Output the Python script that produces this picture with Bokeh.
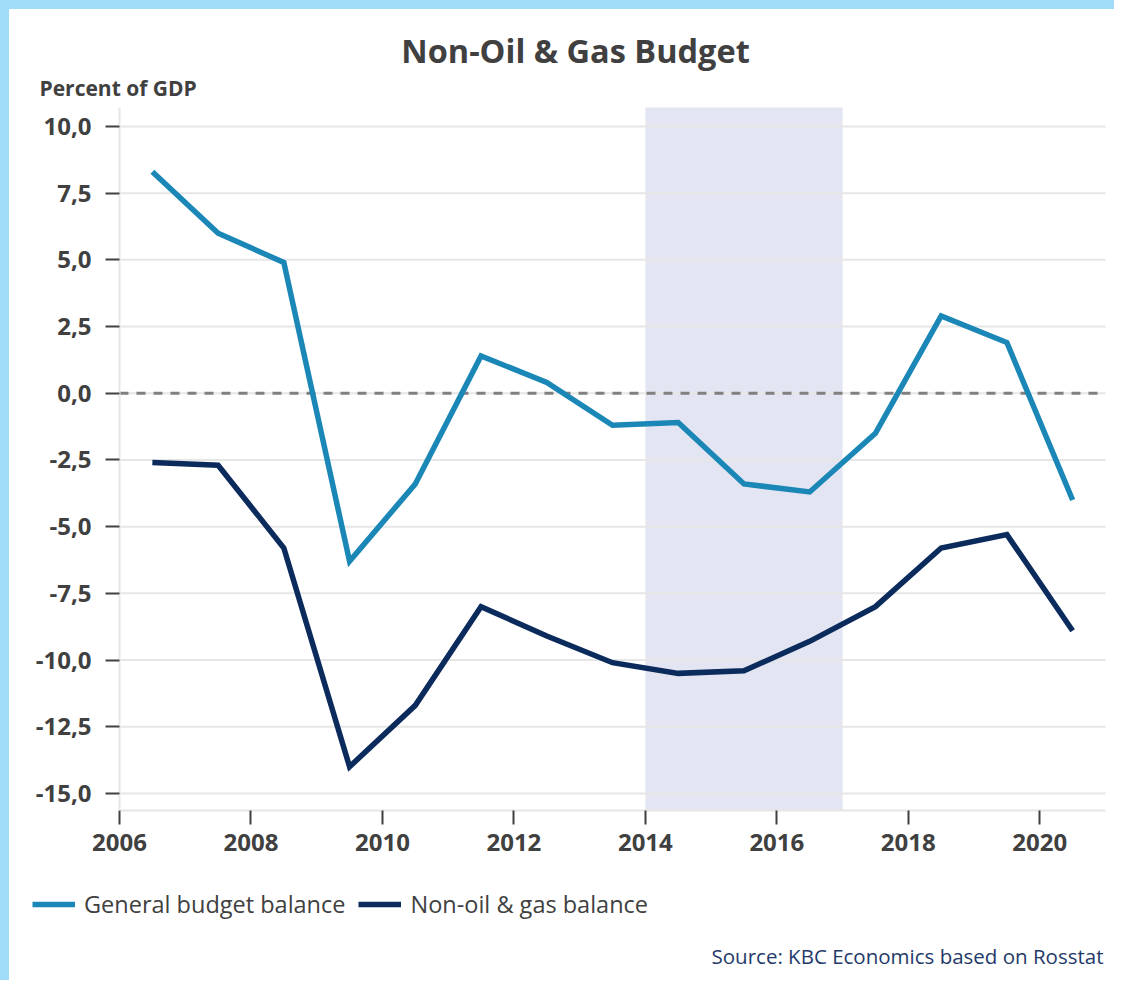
from bokeh.plotting import figure
from bokeh.models import (ColumnDataSource, Range1d, FixedTicker, CustomJSTickFormatter,
                          BoxAnnotation, Label, Legend, LegendItem, Spacer)
from bokeh.layouts import column, row
from bokeh.transform import dodge
from bokeh.embed import file_html
from bokeh.resources import INLINE

# ---- data ----
years = list(range(2006, 2021))
general_balance = [8.3, 6.0, 4.9, -6.3, -3.4, 1.4, 0.4, -1.2, -1.1, -3.4, -3.7, -1.5, 2.9, 1.9, -4.0]
non_oil_gas_balance = [-2.6, -2.7, -5.8, -14.0, -11.7, -8.0, -9.1, -10.1, -10.5, -10.4, -9.3, -8.0, -5.8, -5.3, -8.9]
series_names = ["General budget balance", "Non-oil & gas balance"]
shade_start, shade_end = 2014, 2017
x_ticks = [2006, 2008, 2010, 2012, 2014, 2016, 2018, 2020]
y_ticks = [-15.0, -12.5, -10.0, -7.5, -5.0, -2.5, 0.0, 2.5, 5.0, 7.5, 10.0]

title_text = "Non-Oil & Gas Budget"
unit_text = "Percent of GDP"
source_text = "Source: KBC Economics based on Rosstat"

# ---- plot-area domain ----
X_MIN, X_MAX = 2006, 2021
Y_MIN, Y_MAX = -15.64, 10.71

# ---- layout (page pixels) ----
FIG_X0, FIG_Y0, FIG_W, FIG_H = 9, 9, 1105, 971
FRAME_L, FRAME_R, FRAME_T, FRAME_B = 119, 1105, 107, 810
ppx = (FRAME_R - FRAME_L) / (X_MAX - X_MIN)
ppy = (FRAME_B - FRAME_T) / (Y_MAX - Y_MIN)
XR0 = X_MIN - (FRAME_L - FIG_X0) / ppx
XR1 = X_MAX + (FIG_X0 + FIG_W - FRAME_R) / ppx
YR1 = Y_MAX + (FRAME_T - FIG_Y0) / ppy
YR0 = Y_MIN - (FIG_Y0 + FIG_H - FRAME_B) / ppy


def px2x(px):
    return XR0 + (px - FIG_X0) / ppx


def px2y(py):
    return YR1 - (py - FIG_Y0) / ppy


# ---- style ----
FONT = "Open Sans"
TXT = "#404040"
C_GEN = "#1b87b7"
C_NON = "#0b2b5c"
GRID = "#e6e6e6"
FRAME_BLUE = "#a0dbf8"
LINE_W = 5.5

src = ColumnDataSource(dict(year=years, gen=general_balance, non=non_oil_gas_balance))
grid_src = ColumnDataSource(dict(tick=y_ticks))

p = figure(width=FIG_W, height=FIG_H, output_backend="svg", toolbar_location=None,
           title_location=None, x_range=Range1d(XR0, XR1), y_range=Range1d(YR0, YR1),
           min_border_left=0, min_border_right=0, min_border_top=0, min_border_bottom=0)
p.outline_line_color = None
p.background_fill_color = "white"
p.border_fill_color = "white"
p.grid.visible = False

# shaded period
p.add_layout(BoxAnnotation(left=shade_start, right=shade_end, bottom=Y_MIN, top=Y_MAX,
                           fill_color="#e4e5f2", fill_alpha=1.0, line_color=None,
                           level="underlay"))
# horizontal grid lines over the plot area
p.segment(x0=X_MIN, x1=X_MAX, y0="tick", y1="tick", source=grid_src,
          line_color=GRID, line_width=2)
# zero line
p.segment(x0=X_MIN, x1=X_MAX, y0=0, y1=0, line_color="#808080", line_width=3,
          line_dash="9 8")

r1 = p.line(x=dodge("year", 0.5), y="gen", source=src, line_color=C_GEN, line_width=LINE_W,
            line_join="miter")
r2 = p.line(x=dodge("year", 0.5), y="non", source=src, line_color=C_NON, line_width=LINE_W,
            line_join="miter")

# axes, drawn at the plot-area edges
for ax in (p.xaxis[0], p.yaxis[0]):
    ax.axis_line_color = "#e6e6e6"
    ax.axis_line_width = 2
    ax.major_tick_line_color = TXT
    ax.major_tick_line_width = 2
    ax.major_tick_out = 14
    ax.major_tick_in = 0
    ax.minor_tick_line_color = None
    ax.major_label_text_font = FONT
    ax.major_label_text_font_style = "bold"
    ax.major_label_text_font_size = "24px"
    ax.major_label_text_color = TXT

p.xaxis.ticker = FixedTicker(ticks=x_ticks)
p.xaxis.fixed_location = Y_MIN
p.xaxis.bounds = (X_MIN, X_MAX)
p.xaxis.major_label_standoff = 9
p.yaxis.ticker = FixedTicker(ticks=y_ticks)
p.yaxis.fixed_location = X_MIN
p.yaxis.bounds = (Y_MIN, Y_MAX)
p.yaxis.major_label_standoff = 14
p.yaxis.formatter = CustomJSTickFormatter(code="return tick.toFixed(1).replace('.', ',');")

# texts
p.add_layout(Label(x=px2x(575), y=px2y(50), text=title_text, text_font=FONT,
                   text_font_style="bold", text_font_size="32.5px", text_color=TXT,
                   text_align="center", text_baseline="alphabetic"))
p.add_layout(Label(x=px2x(39), y=px2y(87), text=unit_text, text_font=FONT,
                   text_font_style="bold", text_font_size="21px", text_color=TXT,
                   text_align="left", text_baseline="alphabetic"))
p.add_layout(Label(x=px2x(1103), y=px2y(955), text=source_text, text_font=FONT,
                   text_font_size="20.5px", text_color="#1f3a6a",
                   text_align="right", text_baseline="alphabetic"))

# legend
legend = Legend(items=[LegendItem(label=series_names[0], renderers=[r1]),
                       LegendItem(label=series_names[1], renderers=[r2])],
                orientation="horizontal", location=(32 - FIG_X0, 60),
                label_text_font=FONT, label_text_font_size="23.5px", label_text_color=TXT,
                glyph_width=43, glyph_height=20, label_standoff=9, spacing=13,
                padding=0, margin=0, border_line_color=None, background_fill_alpha=0)
p.add_layout(legend, "center")

top_band = Spacer(width=FIG_X0 + FIG_W, height=FIG_Y0, styles={"background-color": FRAME_BLUE})
left_band = Spacer(width=FIG_X0, height=FIG_H, styles={"background-color": FRAME_BLUE})
page = column(top_band, row(left_band, p))

open("out.html", "w").write(file_html(page, INLINE))
